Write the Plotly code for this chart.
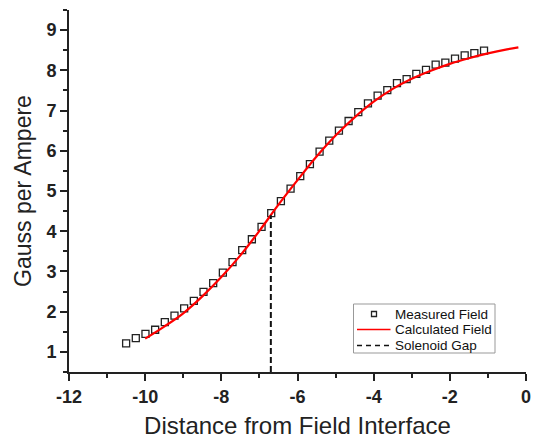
import plotly.graph_objects as go

# Measured field (open squares)
measured_x = [-10.5 + 0.254 * i for i in range(38)]
measured_y = [1.21, 1.34, 1.45, 1.55, 1.74, 1.90, 2.08, 2.27, 2.49, 2.71,
              2.97, 3.23, 3.53, 3.80, 4.11, 4.45, 4.75, 5.06, 5.37, 5.67,
              5.98, 6.25, 6.50, 6.74, 6.96, 7.18, 7.37, 7.51, 7.68, 7.78,
              7.91, 8.01, 8.14, 8.19, 8.29, 8.37, 8.43, 8.49]

# Calculated field (red line)
calc_x = [-10.0, -9.5, -9.0, -8.5, -8.0, -7.5, -7.0, -6.5, -6.0, -5.5, -5.0,
          -4.5, -4.0, -3.5, -3.0, -2.5, -2.0, -1.5, -1.0, -0.5, -0.2]
calc_y = [1.33, 1.63, 1.96, 2.38, 2.86, 3.40, 4.01, 4.66, 5.27, 5.86, 6.38,
          6.83, 7.22, 7.54, 7.79, 7.99, 8.16, 8.30, 8.42, 8.52, 8.57]

# Solenoid gap (dashed vertical line)
gap_x = [-6.70, -6.70]
gap_y = [0.5, 4.40]

x_ticks = [-12, -10, -8, -6, -4, -2, 0]
y_ticks = [1, 2, 3, 4, 5, 6, 7, 8, 9]
legend_labels = ["Measured Field", "Calculated Field", "Solenoid Gap"]

W, H = 538, 439
L, R, T, B = 69, 12, 10, 67
PW, PH = W - L - R, H - T - B


def px2x(px):
    return (px - L) / PW


def py2y(py):
    return (H - B - py) / PH


fig = go.Figure()
fig.add_trace(go.Scatter(
    x=measured_x, y=measured_y, mode="markers", name=legend_labels[0],
    showlegend=False,
    marker=dict(symbol="square-open", size=7, color="#222222",
                line=dict(width=1.3, color="#222222"))))
fig.add_trace(go.Scatter(
    x=calc_x, y=calc_y, mode="lines", name=legend_labels[1],
    showlegend=False,
    line=dict(color="#ff0000", width=2.2, shape="spline")))
fig.add_trace(go.Scatter(
    x=gap_x, y=gap_y, mode="lines", name=legend_labels[2],
    showlegend=False,
    line=dict(color="#111111", width=2, dash="6px,3px")))

tick_font = dict(family="Liberation Sans, Arial", size=18, color="#222222",
                 weight="bold")
axis_common = dict(
    showgrid=False, zeroline=False, showline=True, linecolor="#222222",
    linewidth=2, ticks="outside", tickcolor="#222222", tickwidth=2,
    ticklen=7, mirror=False, tickfont=tick_font,
)

fig.update_xaxes(
    range=[-12, 0.0001], tickvals=x_ticks, ticktext=[str(v) for v in x_ticks],
    minor=dict(ticks="outside", dtick=1, tick0=-12, ticklen=4, tickwidth=2,
               tickcolor="#222222"),
    title=dict(text="Distance from Field Interface", standoff=13,
               font=dict(family="Liberation Sans, Arial", size=24,
                         color="#222222")),
    **axis_common)
fig.update_yaxes(
    range=[0.5, 9.5], tickvals=y_ticks, ticktext=[str(v) for v in y_ticks],
    minor=dict(ticks="outside", dtick=0.5, tick0=0.5, ticklen=4, tickwidth=2,
               tickcolor="#222222"),
    title=dict(text="Gauss per Ampere", standoff=8,
               font=dict(family="Liberation Sans, Arial", size=23,
                         color="#222222")),
    **axis_common)

# Legend drawn as a boxed key
shapes = [
    dict(type="rect", xref="paper", yref="paper",
         x0=px2x(353.5), x1=px2x(495), y0=py2y(353), y1=py2y(304),
         line=dict(color="#999999", width=1), fillcolor="white", layer="above"),
    dict(type="rect", xref="paper", yref="paper",
         x0=px2x(371.5), x1=px2x(376.5), y0=py2y(316.5), y1=py2y(311.5),
         line=dict(color="#222222", width=1.3), fillcolor="white",
         layer="above"),
    dict(type="line", xref="paper", yref="paper",
         x0=px2x(357), x1=px2x(390.5), y0=py2y(329.5), y1=py2y(329.5),
         line=dict(color="#ff0000", width=1.5), layer="above"),
    dict(type="line", xref="paper", yref="paper",
         x0=px2x(357), x1=px2x(391), y0=py2y(345.5), y1=py2y(345.5),
         line=dict(color="#111111", width=1.5, dash="5px,4px"), layer="above"),
]
annotations = []
for label, py in zip(legend_labels, [314, 329.5, 345.5]):
    annotations.append(dict(
        text=label, xref="paper", yref="paper", x=px2x(392.5), y=py2y(py),
        xanchor="left", yanchor="middle", showarrow=False,
        font=dict(family="Liberation Sans, Arial", size=13.5, color="#111111")))

fig.update_layout(
    width=W, height=H,
    margin=dict(l=L, r=R, t=T, b=B, autoexpand=False),
    paper_bgcolor="white", plot_bgcolor="white",
    showlegend=False,
    shapes=shapes, annotations=annotations,
)

fig.write_html("out.html", config={"displayModeBar": False},
               post_script="document.body.style.margin='0';"
                           "document.body.style.padding='0';")
